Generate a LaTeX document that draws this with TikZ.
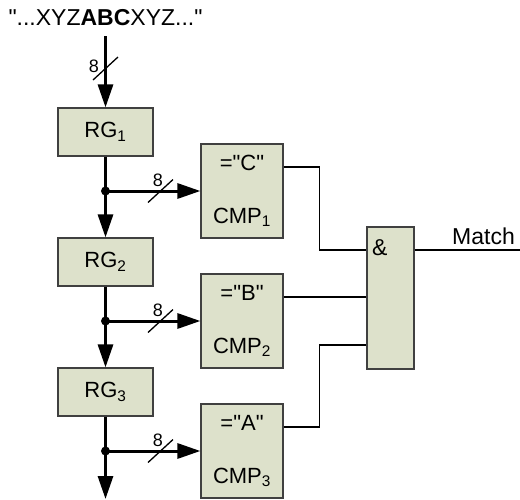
\documentclass[tikz,border=0pt]{standalone}
\usepackage{fontspec}
\setmainfont{Liberation Sans}[Ligatures=TeXOff]
\usetikzlibrary{positioning,arrows.meta,calc}
\definecolor{boxfill}{RGB}{221,225,203}
\definecolor{boxline}{RGB}{64,64,64}

\begin{document}
\begin{tikzpicture}[x=1pt,y=-1pt,
  reg/.style={rectangle,draw=boxline,fill=boxfill,line width=1.2pt,
              minimum width=95pt,minimum height=48pt,inner sep=0pt,
              font=\fontsize{22}{26}\selectfont},
  cmp/.style={reg,minimum width=82pt,minimum height=94pt,align=center},
  gate/.style={reg,minimum width=47pt,minimum height=142pt},
  bus/.style={-{Triangle[length=23pt,width=15pt]},line width=3pt},
  wire/.style={line width=1.3pt},
  slash/.style={line width=1.3pt},
  bw/.style={font=\fontsize{18}{20}\selectfont,inner sep=0pt},
  txt/.style={font=\fontsize{23}{27}\selectfont,inner sep=0pt}
]
\useasboundingbox (0,0) rectangle (520,499);
\node[txt] (src) at (105.5,18) {"...XYZ\textbf{ABC}XYZ..."};
\node[reg] (rg1) at (105.5,132) {RG\textsubscript{1}};
\node[reg] (rg2) at (105.5,262) {RG\textsubscript{2}};
\node[reg] (rg3) at (105.5,392) {RG\textsubscript{3}};
\node[cmp] (cmp1) at (242,191) {="C"\\[27pt]CMP\textsubscript{1}};
\node[cmp] (cmp2) at (242,321) {="B"\\[27pt]CMP\textsubscript{2}};
\node[cmp] (cmp3) at (242,451) {="A"\\[27pt]CMP\textsubscript{3}};
\node[gate] (and) at (390.5,298) {};
\node[txt] (amp) at ([xshift=13.5pt,yshift=-21pt]and.north west) {\&};
\coordinate (j1) at (rg1.south |- cmp1.west);
\coordinate (j2) at (rg2.south |- cmp2.west);
\coordinate (j3) at (rg3.south |- cmp3.west);
\coordinate (bot) at (105.5,499);
\coordinate (c1o) at ([yshift=24pt]cmp1.east);
\coordinate (c2o) at ([yshift=24pt]cmp2.east);
\coordinate (c3o) at ([yshift=24pt]cmp3.east);
\coordinate (out) at (520,250);
% buses
\draw[bus] ([yshift=-10pt]src.south) -- (rg1);
\draw[bus] (rg1) -- (rg2);
\draw[bus] (rg2) -- (rg3);
\draw[bus] (rg3) -- (bot);
\draw[bus] (j1) -- (cmp1);
\draw[bus] (j2) -- (cmp2);
\draw[bus] (j3) -- (cmp3);
\fill (j1) circle[radius=4.5pt];
\fill (j2) circle[radius=4.5pt];
\fill (j3) circle[radius=4.5pt];
% bus widths
\coordinate (s0) at (105.5,68.5);
\coordinate (s1) at ($(j1)+(55,0)$);
\coordinate (s2) at ($(j2)+(55,0)$);
\coordinate (s3) at ($(j3)+(55,0)$);
\draw[slash] ($(s0)+(-12.5,11.5)$) -- ($(s0)+(12.5,-11.5)$);
\draw[slash] ($(s1)+(-12.5,11.5)$) -- ($(s1)+(12.5,-11.5)$);
\draw[slash] ($(s2)+(-12.5,11.5)$) -- ($(s2)+(12.5,-11.5)$);
\draw[slash] ($(s3)+(-12.5,11.5)$) -- ($(s3)+(12.5,-11.5)$);
\node[bw] (w0) at ($(s0)+(-11.5,-2)$) {8};
\node[bw] (w1) at ($(s1)+(-2.5,-11)$) {8};
\node[bw] (w2) at ($(s2)+(-2.5,-11)$) {8};
\node[bw] (w3) at ($(s3)+(-2.5,-11)$) {8};
% compare outputs
\draw[wire] (c1o) -- ++(36,0) |- ([yshift=48pt]and.west);
\draw[wire] (c2o) -- (c2o -| and.west);
\draw[wire] (c3o) -- ++(36,0) |- ([yshift=-47pt]and.west);
\draw[wire] ([yshift=48pt]and.east) -- (out);
\node[txt,anchor=south east] (match) at ([xshift=-5pt,yshift=5pt]out) {Match};
\end{tikzpicture}
\end{document}
